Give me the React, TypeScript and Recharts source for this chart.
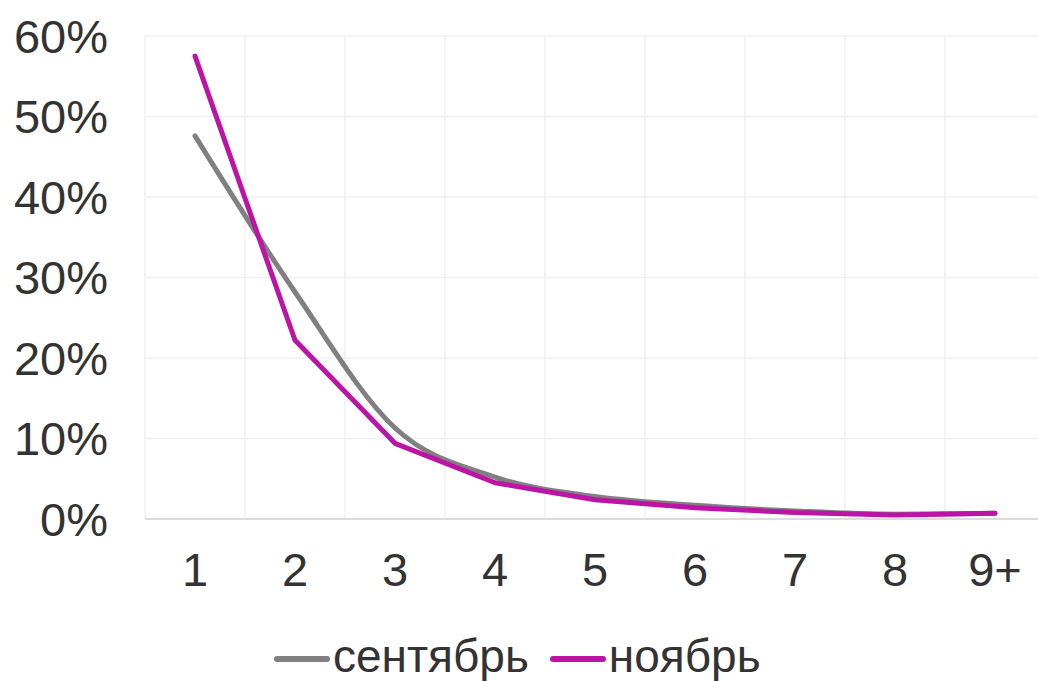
import { CartesianGrid, Line, LineChart, XAxis, YAxis } from "recharts";

const categories = ["1", "2", "3", "4", "5", "6", "7", "8", "9+"];
const september = [47.6, 28.2, 11.3, 5.2, 2.8, 1.7, 1.0, 0.6, 0.7];
const november = [57.5, 22.2, 9.4, 4.5, 2.4, 1.4, 0.8, 0.5, 0.7];
const yTicks = [0, 10, 20, 30, 40, 50, 60];

const seriesNames = { sep: "сентябрь", nov: "ноябрь" };
const GRAY = "#808080";
const MAGENTA = "#bd14a6";
const FONT = '"Liberation Sans", Arial, Helvetica, sans-serif';
const TEXT = "#333333";
const FS = 47;

const data = categories.map((c, i) => ({
  name: c,
  sep: september[i],
  nov: november[i],
}));

// легенда отдельно от графика, чтобы не отъедала место у оси X
function ChartLegend() {
  const items = [
    { label: seriesNames.sep, color: GRAY },
    { label: seriesNames.nov, color: MAGENTA },
  ];
  return (
    <div
      style={{
        position: "absolute",
        left: 273,
        top: 636,
        height: 40,
        display: "flex",
        alignItems: "center",
        fontFamily: FONT,
        fontSize: 46,
        lineHeight: "40px",
        color: TEXT,
        whiteSpace: "nowrap",
      }}
    >
      {items.map((it, i) => (
        <div key={it.label} style={{ display: "flex", alignItems: "center", marginLeft: i ? 20 : 0 }}>
          <svg width={58} height={10} style={{ marginRight: 2, position: "relative", top: 3 }}>
            <line x1={4} y1={5} x2={54} y2={5} stroke={it.color} strokeWidth={6} strokeLinecap="round" />
          </svg>
          <span>{it.label}</span>
        </div>
      ))}
    </div>
  );
}

export default function App() {
  return (
    <div style={{ position: "absolute", left: 0, top: 0, width: 1038, height: 681, overflow: "hidden", background: "#fff" }}>
      <LineChart
        width={1050}
        height={681}
        data={data}
        margin={{ top: 36, right: 5, left: 0, bottom: 0 }}
      >
        <CartesianGrid
          stroke="#f0eff8"
          strokeWidth={1.5}
          verticalCoordinatesGenerator={({ offset }) =>
            categories.map((_, i) => offset.left + (i * offset.width) / categories.length)
          }
        />
        <XAxis
          dataKey="name"
          height={162}
          padding={{ left: 50, right: 50 }}
          tickLine={false}
          axisLine={{ stroke: "#dcdcdc", strokeWidth: 2 }}
          tickMargin={28}
          tick={{ fontSize: FS, fill: TEXT, fontFamily: FONT }}
          interval={0}
        />
        <YAxis
          width={145}
          domain={[0, 60]}
          ticks={yTicks}
          tickFormatter={(v) => `${v}%`}
          tickLine={false}
          axisLine={false}
          tickMargin={31}
          tick={{ fontSize: FS, fill: TEXT, fontFamily: FONT }}
        />
        <Line
          dataKey="sep"
          name={seriesNames.sep}
          type="monotone"
          stroke={GRAY}
          strokeWidth={5}
          dot={false}
          isAnimationActive={false}
          strokeLinecap="round"
        />
        <Line
          dataKey="nov"
          name={seriesNames.nov}
          type="linear"
          stroke={MAGENTA}
          strokeWidth={5}
          dot={false}
          isAnimationActive={false}
          strokeLinecap="round"
          strokeLinejoin="round"
        />
      </LineChart>
      <ChartLegend />
    </div>
  );
}
